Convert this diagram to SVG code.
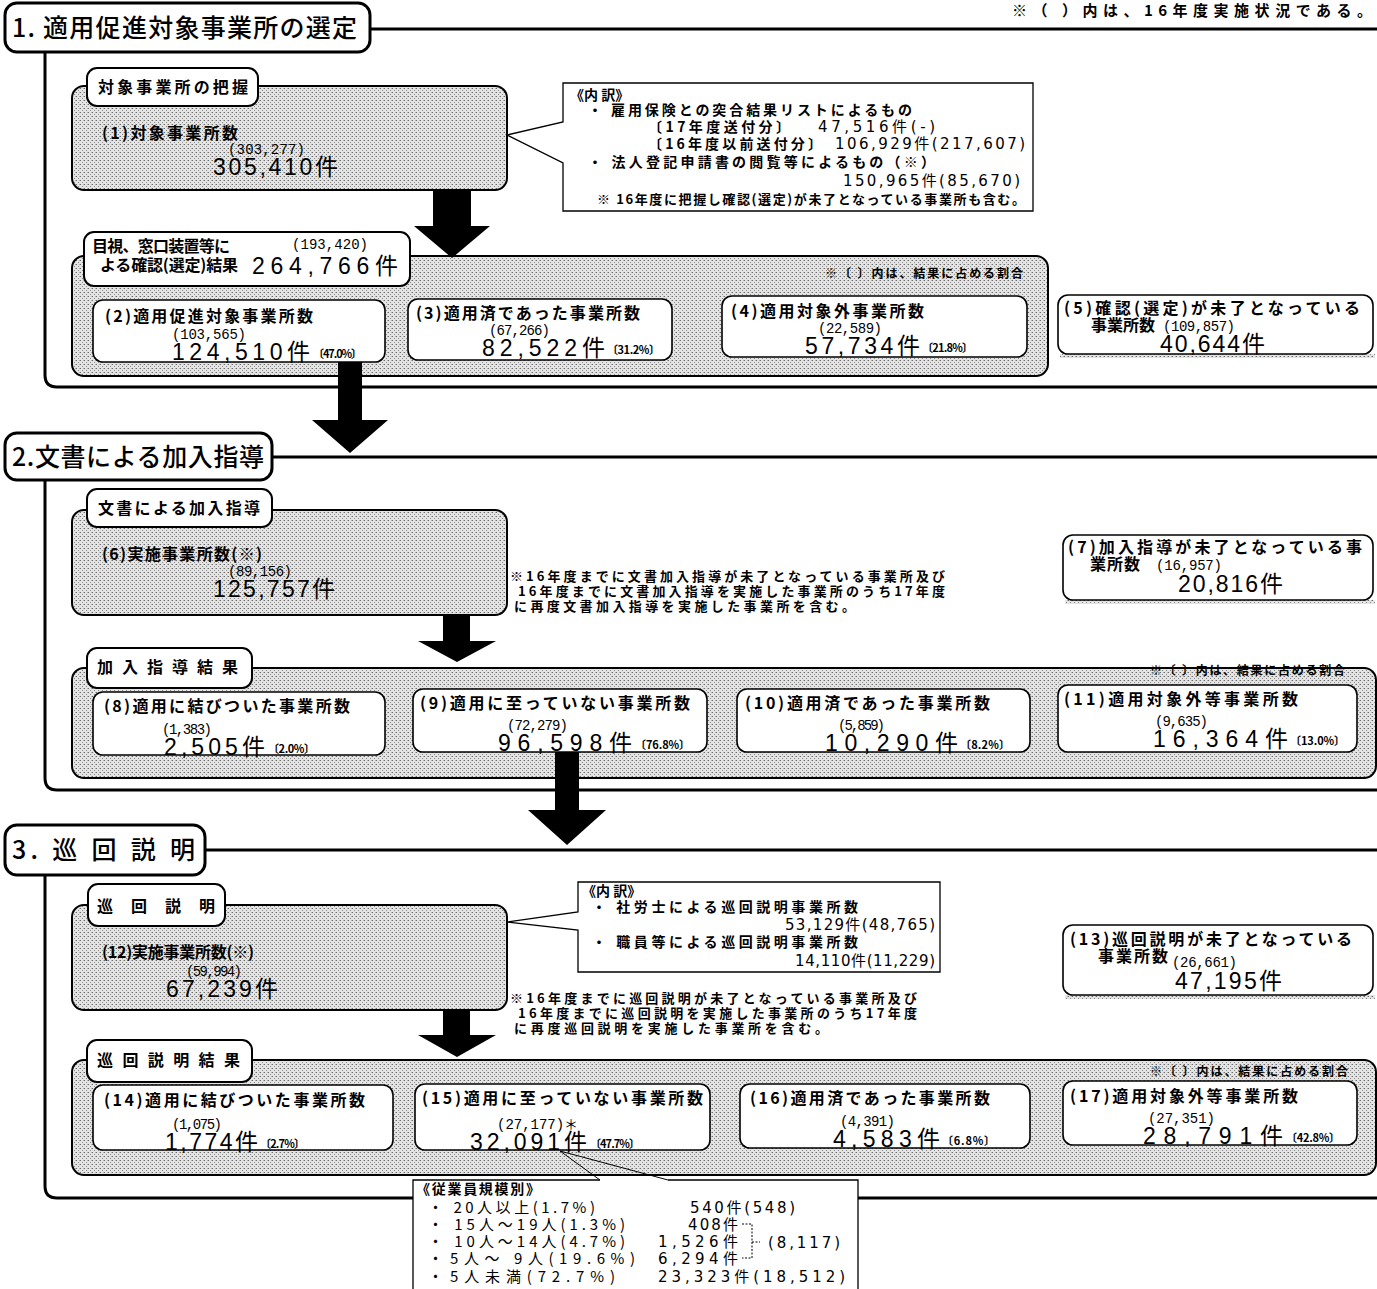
<svg xmlns="http://www.w3.org/2000/svg" width="1377" height="1289" viewBox="0 0 1377 1289">
<defs>
<pattern id="dots" width="4" height="4" patternUnits="userSpaceOnUse">
<rect width="4" height="4" fill="#e4e4e4"/>
<rect x="0" y="0" width="1" height="1" fill="#6a6a6a"/>
<rect x="2" y="2" width="1" height="1" fill="#8a8a8a"/>
<rect x="3" y="0" width="1" height="1" fill="#b0b0b0"/>
</pattern>
<style>
.t{font-family:'Noto Sans CJK JP','Noto Sans',sans-serif;fill:#000}
.title{font-size:25px;font-weight:500}
.lbl{font-size:16px;font-weight:700}
.note{font-size:13px;font-weight:700}
.pct{font-size:11px;font-weight:700}
.n{font-family:'Liberation Mono','Noto Sans CJK JP',monospace;font-size:14px;fill:#000}
.big{font-family:'Liberation Sans','Noto Sans CJK JP',sans-serif;font-size:23px;fill:#000}
.nb{font-family:'DejaVu Sans','Noto Sans CJK JP',sans-serif;font-size:15px;fill:#000}
.br{fill:none;stroke:#000;stroke-width:3}
.ttl{fill:#fff;stroke:#000;stroke-width:3}
.tab{fill:#fff;stroke:#000;stroke-width:2}
.grey{fill:url(#dots);stroke:#000;stroke-width:2}
.box{fill:#fff;stroke:#000;stroke-width:1.6}
.nbox{fill:#fff;stroke:#000;stroke-width:1.3}
.arr{fill:#000;stroke:none}
.thin{fill:none;stroke:#000;stroke-width:1}
.shadow{fill:url(#dots);stroke:none}
</style>
</defs>
<rect width="1377" height="1289" fill="#fff"/>

<text class="t" x="1012" y="16" font-size="15" font-weight="700" textLength="360">※（ ）内は、16年度実施状況である。</text>

<!-- Section 1 -->
<g id="section1">
<path class="br" d="M370,29 H1377 M45,52 V375 Q45,387 57,387 H1377"/>
<rect class="ttl" x="5" y="3" width="365" height="49" rx="12"/>
<text class="t title" x="12" y="37" textLength="345">1. 適用促進対象事業所の選定</text>
</g>

<g id="grasp">
<rect class="grey" x="72" y="86" width="435" height="104" rx="12"/>
<rect class="tab" x="87" y="68" width="171" height="38" rx="10"/>
<text class="t lbl" x="98" y="93" font-size="15" textLength="150">対象事業所の把握</text>
<text class="t lbl" x="102" y="139" textLength="136">(1)対象事業所数</text>
<text class="n" x="228" y="154" textLength="77">(303,277)</text>
<text class="big" x="213" y="175" textLength="125">305,410件</text>
</g>

<g id="note1">
<path class="nbox" d="M563,83 H1033 V211 H563 V163 L507,135 L563,122 Z"/>
<text class="t" font-size="14" font-weight="700" x="570" y="100">《内 訳》</text>
<text class="t" font-size="14" font-weight="700" x="588" y="115" textLength="324">・ 雇用保険との突合結果リストによるもの</text>
<text class="t" font-size="14" font-weight="700" x="648" y="132" textLength="142">〔17年度送付分〕</text>
<text class="nb" x="818" y="132" textLength="117">47,516件(-)</text>
<text class="t" font-size="14" font-weight="700" x="648" y="149" textLength="174">〔16年度以前送付分〕</text>
<text class="nb" x="835" y="149" textLength="190">106,929件(217,607)</text>
<text class="t" font-size="14" font-weight="700" x="588" y="167" textLength="347">・ 法人登記申請書の閲覧等によるもの（※）</text>
<text class="nb" x="843" y="186" textLength="177">150,965件(85,670)</text>
<text class="t" font-size="13" font-weight="700" x="597" y="204" textLength="428">※ 16年度に把握し確認(選定)が未了となっている事業所も含む。</text>
</g>

<g id="results1">
<rect class="grey" x="72" y="256" width="976" height="120" rx="12"/>
<rect class="tab" x="84" y="232" width="326" height="54" rx="10"/>
<text class="t lbl" x="92" y="252" textLength="138">目視、窓口装置等に</text>
<text class="n" x="292" y="249" textLength="76">(193,420)</text>
<text class="t lbl" x="100" y="271" textLength="138">よる確認(選定)結果</text>
<text class="big" x="252" y="274" textLength="146">264,766件</text>
<text class="t" x="825" y="278" font-size="12" font-weight="700" textLength="198">※〔 〕内は、結果に占める割合</text>
</g>

<g id="box2">
<rect class="box" x="93" y="300" width="292" height="62" rx="10"/>
<text class="t lbl" x="105" y="322" textLength="208">(2)適用促進対象事業所数</text>
<text class="n" x="172" y="339" textLength="74">(103,565)</text>
<text class="big" x="172" y="360" textLength="138">124,510件</text>
<text class="t pct" x="313" y="358" textLength="49">〔47.0%〕</text>
</g>
<g id="box3">
<rect class="box" x="408" y="299" width="264" height="61" rx="10"/>
<text class="t lbl" x="416" y="319" textLength="224">(3)適用済であった事業所数</text>
<text class="n" x="489" y="335" textLength="61">(67,266)</text>
<text class="big" x="482" y="356" textLength="123">82,522件</text>
<text class="t pct" x="607" y="354" textLength="53">〔31.2%〕</text>
</g>
<g id="box4">
<rect class="box" x="722" y="296" width="305" height="61" rx="10"/>
<text class="t lbl" x="731" y="317" textLength="193">(4)適用対象外事業所数</text>
<text class="n" x="818" y="333" textLength="64">(22,589)</text>
<text class="big" x="805" y="354" textLength="115">57,734件</text>
<text class="t pct" x="922" y="352" textLength="51">〔21.8%〕</text>
</g>
<g id="box5">
<rect class="shadow" x="1060" y="354" width="315" height="4"/>
<rect class="box" x="1058" y="295" width="315" height="59" rx="10"/>
<text class="t lbl" x="1064" y="314" textLength="296">(5)確認(選定)が未了となっている</text>
<text class="t lbl" x="1091" y="331" textLength="64">事業所数</text>
<text class="n" x="1163" y="331" textLength="72">(109,857)</text>
<text class="big" x="1160" y="352" textLength="105">40,644件</text>
</g>

<!-- Section 2 -->
<g id="section2">
<path class="br" d="M272,457 H1377 M45,480 V778 Q45,790 57,790 H1377"/>
<rect class="ttl" x="5" y="433" width="267" height="47" rx="12"/>
<text class="t title" x="12" y="466" textLength="252">2.文書による加入指導</text>
</g>

<g id="guidance">
<rect class="grey" x="72" y="510" width="435" height="105" rx="12"/>
<rect class="tab" x="87" y="489" width="185" height="38" rx="10"/>
<text class="t lbl" x="98" y="514" font-size="15" textLength="162">文書による加入指導</text>
<text class="t lbl" x="102" y="560" textLength="160">(6)実施事業所数(※)</text>
<text class="n" x="228" y="576" textLength="64">(89,156)</text>
<text class="big" x="213" y="597" textLength="122">125,757件</text>
</g>

<g id="note2">
<text class="t note" x="510" y="581" textLength="435">※16年度までに文書加入指導が未了となっている事業所及び</text>
<text class="t note" x="518" y="596" textLength="427">16年度までに文書加入指導を実施した事業所のうち17年度</text>
<text class="t note" x="514" y="611" textLength="341">に再度文書加入指導を実施した事業所を含む。</text>
</g>

<g id="box7">
<rect class="shadow" x="1065" y="600" width="310" height="4"/>
<rect class="box" x="1063" y="535" width="310" height="65" rx="10"/>
<text class="t lbl" x="1068" y="553" textLength="294">(7)加入指導が未了となっている事</text>
<text class="t lbl" x="1090" y="570" textLength="50">業所数</text>
<text class="n" x="1156" y="570" textLength="66">(16,957)</text>
<text class="big" x="1178" y="592" textLength="105">20,816件</text>
</g>

<g id="results2">
<rect class="grey" x="72" y="668" width="1304" height="110" rx="12"/>
<rect class="tab" x="87" y="648" width="165" height="40" rx="10"/>
<text class="t lbl" x="97" y="673" font-size="15" textLength="141">加入指導結果</text>
<text class="t" x="1150" y="675" font-size="12" font-weight="700" textLength="195">※〔 〕内は、結果に占める割合</text>
</g>
<g id="box8">
<rect class="box" x="93" y="692" width="292" height="63" rx="10"/>
<text class="t lbl" x="104" y="712" textLength="246">(8)適用に結びついた事業所数</text>
<text class="n" x="162" y="734" textLength="50">(1,383)</text>
<text class="big" x="164" y="755" textLength="101">2,505件</text>
<text class="t pct" x="268" y="753" textLength="47">〔2.0%〕</text>
</g>
<g id="box9">
<rect class="box" x="413" y="689" width="294" height="63" rx="10"/>
<text class="t lbl" x="420" y="709" textLength="270">(9)適用に至っていない事業所数</text>
<text class="n" x="507" y="730" textLength="61">(72,279)</text>
<text class="big" x="498" y="751" textLength="134">96,598件</text>
<text class="t pct" x="635" y="749" textLength="55">〔76.8%〕</text>
</g>
<g id="box10">
<rect class="box" x="737" y="689" width="293" height="63" rx="10"/>
<text class="t lbl" x="745" y="709" textLength="245">(10)適用済であった事業所数</text>
<text class="n" x="838" y="730" textLength="47">(5,859)</text>
<text class="big" x="825" y="751" textLength="133">10,290件</text>
<text class="t pct" x="960" y="749" textLength="50">〔8.2%〕</text>
</g>
<g id="box11">
<rect class="box" x="1058" y="685" width="299" height="67" rx="10"/>
<text class="t lbl" x="1064" y="705" textLength="234">(11)適用対象外等事業所数</text>
<text class="n" x="1155" y="726" textLength="53">(9,635)</text>
<text class="big" x="1153" y="747" textLength="135">16,364件</text>
<text class="t pct" x="1290" y="745" textLength="55">〔13.0%〕</text>
</g>

<!-- Section 3 -->
<g id="section3">
<path class="br" d="M205,850 H1377 M45,875 V1186 Q45,1198 57,1198 H1377"/>
<rect class="ttl" x="5" y="825" width="200" height="50" rx="12"/>
<text class="t title" x="12" y="859" textLength="183">3. 巡 回 説 明</text>
</g>

<g id="visit">
<rect class="grey" x="72" y="905" width="435" height="105" rx="12"/>
<rect class="tab" x="88" y="884" width="137" height="42" rx="10"/>
<text class="t lbl" x="97" y="912" font-size="15" textLength="118">巡回説明</text>
<text class="t lbl" x="102" y="958" textLength="152">(12)実施事業所数(※)</text>
<text class="n" x="186" y="976" textLength="56">(59,994)</text>
<text class="big" x="166" y="997" textLength="112">67,239件</text>
</g>

<g id="note3">
<path class="nbox" d="M578,882 H940 V972 H578 V930 L507,922 L578,912 Z"/>
<text class="t" font-size="14" font-weight="700" x="582" y="896">《内 訳》</text>
<text class="t" font-size="14" font-weight="700" x="592" y="912" textLength="266">・ 社労士による巡回説明事業所数</text>
<text class="nb" x="785" y="930" textLength="150">53,129件(48,765)</text>
<text class="t" font-size="14" font-weight="700" x="592" y="947" textLength="266">・ 職員等による巡回説明事業所数</text>
<text class="nb" x="795" y="966" textLength="140">14,110件(11,229)</text>
</g>

<g id="note4">
<text class="t note" x="510" y="1003" textLength="407">※16年度までに巡回説明が未了となっている事業所及び</text>
<text class="t note" x="518" y="1018" textLength="399">16年度までに巡回説明を実施した事業所のうち17年度</text>
<text class="t note" x="514" y="1033" textLength="314">に再度巡回説明を実施した事業所を含む。</text>
</g>

<g id="box13">
<rect class="shadow" x="1065" y="995" width="310" height="4"/>
<rect class="box" x="1063" y="925" width="310" height="70" rx="10"/>
<text class="t lbl" x="1070" y="945" textLength="282">(13)巡回説明が未了となっている</text>
<text class="t lbl" x="1098" y="962" textLength="70">事業所数</text>
<text class="n" x="1172" y="967" textLength="65">(26,661)</text>
<text class="big" x="1175" y="989" textLength="107">47,195件</text>
</g>

<g id="results3">
<rect class="grey" x="72" y="1060" width="1304" height="115" rx="12"/>
<rect class="tab" x="87" y="1040" width="165" height="42" rx="10"/>
<text class="t lbl" x="97" y="1066" font-size="15" textLength="143">巡回説明結果</text>
<text class="t" x="1150" y="1076" font-size="12" font-weight="700" textLength="198">※〔 〕内は、結果に占める割合</text>
</g>
<g id="box14">
<rect class="box" x="93" y="1085" width="300" height="65" rx="10"/>
<text class="t lbl" x="104" y="1106" textLength="261">(14)適用に結びついた事業所数</text>
<text class="n" x="172" y="1129" textLength="50">(1,075)</text>
<text class="big" x="165" y="1150" textLength="93">1,774件</text>
<text class="t pct" x="260" y="1148" textLength="45">〔2.7%〕</text>
</g>
<g id="box15">
<rect class="box" x="415" y="1084" width="295" height="66" rx="10"/>
<text class="t lbl" x="422" y="1104" textLength="281">(15)適用に至っていない事業所数</text>
<text class="n" x="497" y="1129" textLength="81">(27,177)＊</text>
<text class="big" x="470" y="1150" textLength="117">32,091件</text>
<text class="t pct" x="590" y="1148" textLength="50">〔47.7%〕</text>
</g>
<g id="box16">
<rect class="box" x="740" y="1084" width="290" height="64" rx="10"/>
<text class="t lbl" x="750" y="1104" textLength="240">(16)適用済であった事業所数</text>
<text class="n" x="840" y="1126" textLength="55">(4,391)</text>
<text class="big" x="833" y="1147" textLength="107">4,583件</text>
<text class="t pct" x="942" y="1145" textLength="53">〔6.8%〕</text>
</g>
<g id="box17">
<rect class="box" x="1063" y="1081" width="294" height="64" rx="10"/>
<text class="t lbl" x="1070" y="1102" textLength="228">(17)適用対象外等事業所数</text>
<text class="n" x="1148" y="1123" textLength="67">(27,351)</text>
<text class="big" x="1143" y="1144" textLength="140">28,791件</text>
<text class="t pct" x="1286" y="1142" textLength="54">〔42.8%〕</text>
</g>

<g id="scale">
<path class="nbox" d="M600,1180 H413 V1295 H858 V1180 H668"/>
<text class="t" font-size="14" font-weight="700" x="416" y="1194" textLength="124">《従業員規模別》</text>
<text class="t" font-size="15" x="428" y="1213" textLength="167">・ 20人以上(1.7%)</text>
<text class="nb" x="690" y="1213" textLength="105">540件(548)</text>
<text class="t" font-size="15" x="428" y="1230" textLength="197">・ 15人～19人(1.3%)</text>
<text class="nb" x="688" y="1230" textLength="50">408件</text>
<text class="t" font-size="15" x="428" y="1247" textLength="197">・ 10人～14人(4.7%)</text>
<text class="nb" x="658" y="1247" textLength="80">1,526件</text>
<text class="t" font-size="15" x="428" y="1264">・</text>
<text class="t" font-size="15" x="450" y="1264" textLength="185">5人～ 9人(19.6%)</text>
<text class="nb" x="658" y="1264" textLength="80">6,294件</text>
<text class="t" font-size="15" x="428" y="1282">・</text>
<text class="t" font-size="15" x="450" y="1282" textLength="165">5人未満(72.7%)</text>
<text class="nb" x="658" y="1282" textLength="187">23,323件(18,512)</text>
<path class="thin" stroke-dasharray="2,1.5" d="M742,1224 H752 V1258 H742 M752,1242 H760"/>
<text class="nb" x="768" y="1248" textLength="72">(8,117)</text>
</g>

<g id="connectors">
<path class="arr" d="M433,190 H471 V226 H490 L452,258 L414,226 H433 Z"/>
<path class="arr" d="M338,362 H362 V420 H388 L350,453 L312,420 H338 Z"/>
<path class="arr" d="M443,615 H470 V641 H496 L457,662 L418,641 H443 Z"/>
<path class="arr" d="M555,752 H579 V810 H606 L567,845 L528,810 H555 Z"/>
<path class="arr" d="M443,1010 H470 V1035 H496 L457,1057 L418,1035 H443 Z"/>
<path class="thin" stroke-width="1.5" d="M600,1180 L560,1151 L668,1180"/>
</g>
</svg>
